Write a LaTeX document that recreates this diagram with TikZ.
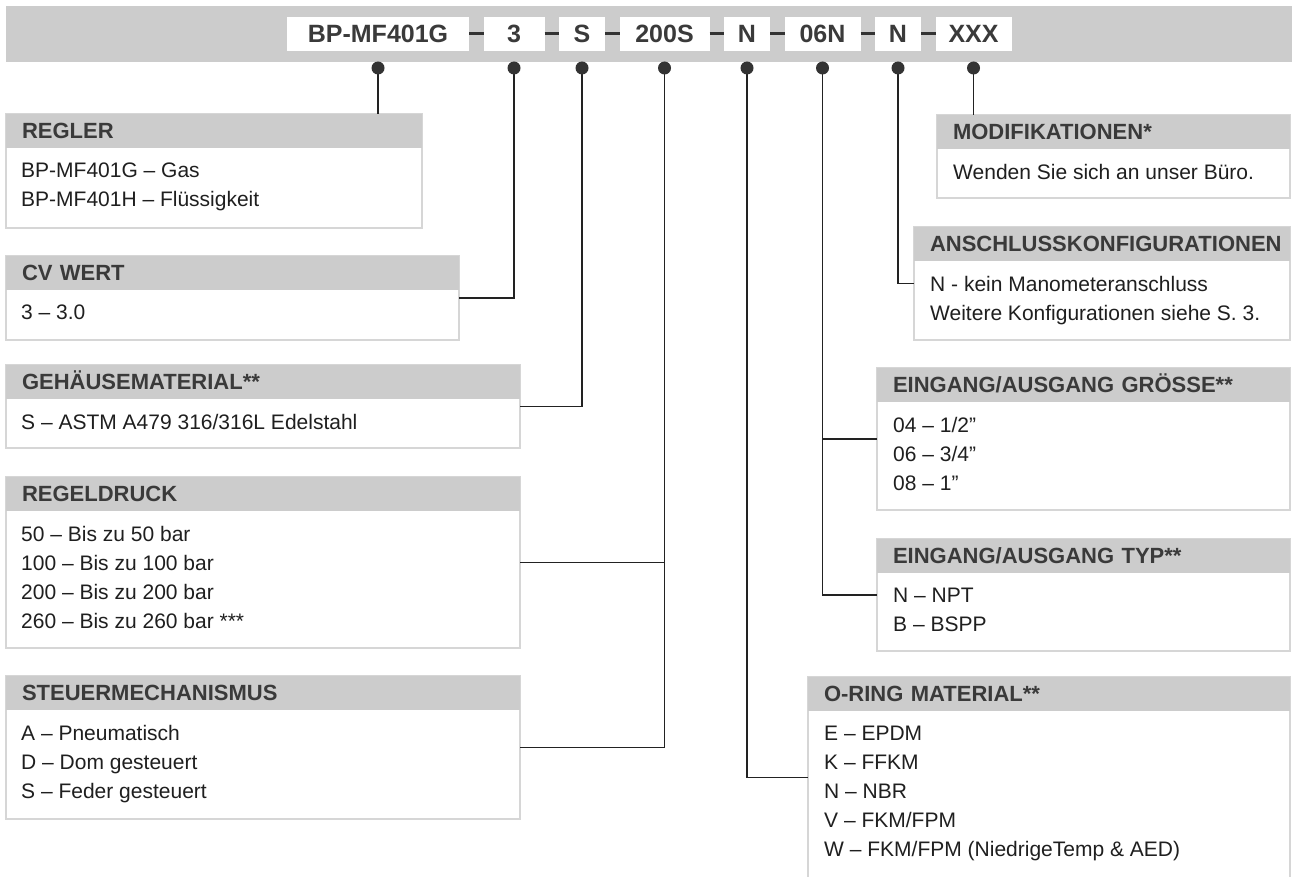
\documentclass[tikz,border=0pt]{standalone}
\usepackage{fontspec}
\setmainfont{Liberation Sans}
\usetikzlibrary{positioning}
\definecolor{bargray}{HTML}{CCCCCC}
\definecolor{headtext}{HTML}{3A3A3A}
\definecolor{framegray}{HTML}{D6D6D6}
\definecolor{linecol}{HTML}{222222}
\definecolor{knobcol}{HTML}{333333}

\begin{document}
\begin{tikzpicture}[x=1pt, y=-1pt,
    codebox/.style={fill=white, text=headtext, font=\fontsize{25}{30}\selectfont\bfseries, minimum height=34pt, inner sep=0pt, outer sep=0pt, text height=18pt, text depth=0pt},
    infobox/.style={draw=framegray, line width=1.5pt, fill=white, anchor=north west, inner sep=0pt, outer sep=0pt},
    headbar/.style={fill=bargray, text=headtext, font=\fontsize{22}{26}\selectfont\bfseries, anchor=north west, minimum height=34pt, inner xsep=16pt, inner ysep=0pt, outer sep=0pt, align=left, text height=15.8pt, text depth=0pt},
    infotext/.style={anchor=north west, inner sep=0pt, align=left, font=\fontsize{21}{29}\selectfont, text=black!88},
    conn/.style={draw=linecol, line width=1.5pt},
    tie/.style={draw=knobcol, line width=3pt},
    knob/.style={fill=knobcol}]
    \useasboundingbox[fill=white] (0,0) rectangle (1292,877);

    % order code
    \fill[bargray] (6,6) rectangle (1292,62);
    \node[codebox, minimum width=182pt] (codeReg) at (378,34) {BP-MF401G};
    \node[codebox, minimum width=61pt, right=14.5pt of codeReg] (codeCv) {3};
    \node[codebox, minimum width=46pt, right=14.5pt of codeCv] (codeMat) {S};
    \node[codebox, minimum width=90pt, right=14.5pt of codeMat] (codeDruck) {200S};
    \node[codebox, minimum width=46pt, right=14.5pt of codeDruck] (codeRing) {N};
    \node[codebox, minimum width=76pt, right=14.5pt of codeRing] (codeSize) {06N};
    \node[codebox, minimum width=46pt, right=14.5pt of codeSize] (codeConf) {N};
    \node[codebox, minimum width=76pt, right=14.5pt of codeConf] (codeMod) {XXX};
    \foreach \a/\b in {Reg/Cv, Cv/Mat, Mat/Druck, Druck/Ring, Ring/Size, Size/Conf, Conf/Mod}
        \draw[tie] (code\a.east) -- (code\b.west);

    % left column
    \node[infobox, minimum width=416pt, minimum height=114pt] (boxReg) at (6,114) {};
    \node[infobox, minimum width=453pt, minimum height=84pt, below=28pt of boxReg.south west, anchor=north west] (boxCv) {};
    \node[infobox, minimum width=514pt, minimum height=83pt, below=25pt of boxCv.south west, anchor=north west] (boxMat) {};
    \node[infobox, minimum width=514pt, minimum height=171pt, below=29pt of boxMat.south west, anchor=north west] (boxDruck) {};
    \node[infobox, minimum width=514pt, minimum height=143pt, below=28pt of boxDruck.south west, anchor=north west] (boxSteuer) {};

    \node[headbar, text width=384pt] (hReg) at (boxReg.north west) {REGLER};
    \node[headbar, text width=421pt] (hCv) at (boxCv.north west) {CV WERT};
    \node[headbar, text width=482pt] (hMat) at (boxMat.north west) {GEHÄUSEMATERIAL**};
    \node[headbar, text width=482pt] (hDruck) at (boxDruck.north west) {REGELDRUCK};
    \node[headbar, text width=482pt] (hSteuer) at (boxSteuer.north west) {STEUERMECHANISMUS};

    \node[infotext] (tReg) at ([shift={(15pt,-15pt)}]hReg.south west) {BP-MF401G – Gas\\BP-MF401H – Flüssigkeit};
    \node[infotext] (tCv) at ([shift={(15pt,-15pt)}]hCv.south west) {3 – 3.0};
    \node[infotext] (tMat) at ([shift={(15pt,-15pt)}]hMat.south west) {S – ASTM A479 316/316L Edelstahl};
    \node[infotext] (tDruck) at ([shift={(15pt,-15pt)}]hDruck.south west) {50 – Bis zu 50 bar\\100 – Bis zu 100 bar\\200 – Bis zu 200 bar\\260 – Bis zu 260 bar ***};
    \node[infotext] (tSteuer) at ([shift={(15pt,-15pt)}]hSteuer.south west) {A – Pneumatisch\\D – Dom gesteuert\\S – Feder gesteuert};

    % right column
    \node[infobox, minimum width=353pt, minimum height=83pt, anchor=north east] (boxMod) at (1290,115) {};
    \node[infobox, minimum width=376pt, minimum height=113pt, below=29pt of boxMod.south east, anchor=north east] (boxConf) {};
    \node[infobox, minimum width=413pt, minimum height=142pt, below=28pt of boxConf.south east, anchor=north east] (boxSize) {};
    \node[infobox, minimum width=413pt, minimum height=112pt, below=29pt of boxSize.south east, anchor=north east] (boxTyp) {};
    \node[infobox, minimum width=482pt, minimum height=201pt, below=26pt of boxTyp.south east, anchor=north east] (boxRing) {};

    \node[headbar, text width=321pt] (hMod) at (boxMod.north west) {MODIFIKATIONEN*};
    \node[headbar, text width=344pt] (hConf) at (boxConf.north west) {\mbox{ANSCHLUSSKONFIGURATIONEN}};
    \node[headbar, text width=381pt] (hSize) at (boxSize.north west) {EINGANG/AUSGANG GRÖSSE**};
    \node[headbar, text width=381pt] (hTyp) at (boxTyp.north west) {EINGANG/AUSGANG TYP**};
    \node[headbar, text width=450pt] (hRing) at (boxRing.north west) {O-RING MATERIAL**};

    \node[infotext] (tMod) at ([shift={(16pt,-15pt)}]hMod.south west) {Wenden Sie sich an unser Büro.};
    \node[infotext] (tConf) at ([shift={(16pt,-15pt)}]hConf.south west) {N - kein Manometeranschluss\\Weitere Konfigurationen siehe S. 3.};
    \node[infotext] (tSize) at ([shift={(16pt,-15pt)}]hSize.south west) {04 – 1/2”\\06 – 3/4”\\08 – 1”};
    \node[infotext] (tTyp) at ([shift={(16pt,-15pt)}]hTyp.south west) {N – NPT\\B – BSPP};
    \node[infotext] (tRing) at ([shift={(16pt,-15pt)}]hRing.south west) {E – EPDM\\K – FFKM\\N – NBR\\V – FKM/FPM\\W – FKM/FPM (NiedrigeTemp \& AED)};

    % leaders
    \foreach \c in {Reg, Cv, Mat, Druck, Ring, Size, Conf, Mod}
        \path (code\c.south) ++(0,17) coordinate (d\c);
    \draw[conn] (dReg) -- (dReg |- boxReg.north);
    \draw[conn] (dCv) |- (boxCv.east);
    \draw[conn] (dMat) |- (boxMat.east);
    \draw[conn] (dDruck) |- (boxSteuer.east);
    \draw[conn] (boxDruck.east) -- (boxDruck.east -| dDruck);
    \draw[conn] (dRing) |- (boxRing.west);
    \draw[conn] (dSize) |- (boxTyp.west);
    \draw[conn] (boxSize.west) -- (boxSize.west -| dSize);
    \draw[conn] (dConf) |- (boxConf.west);
    \draw[conn] (dMod) -- (dMod |- boxMod.north);
    \foreach \c in {Reg, Cv, Mat, Druck, Ring, Size, Conf, Mod}
        \fill[knob] (d\c) circle (6.5pt);
\end{tikzpicture}
\end{document}
